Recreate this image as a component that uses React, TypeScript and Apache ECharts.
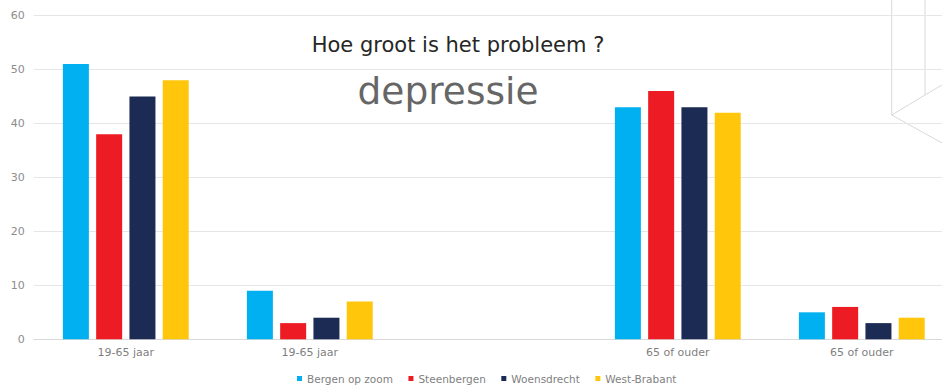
import React, { useEffect, useRef } from "react";
import * as echarts from "echarts";

const categories = ["19-65 jaar", "19-65 jaar", "", "65 of ouder", "65 of ouder"];
const seriesNames = ["Bergen op zoom", "Steenbergen", "Woensdrecht", "West-Brabant"];
const bergenOpZoom = [51, 9, null, 43, 5];
const steenbergen = [38, 3, null, 46, 6];
const woensdrecht = [45, 4, null, 43, 3];
const westBrabant = [48, 7, null, 42, 4];
const colors = ["#00B0F0", "#ED1C24", "#1C2B53", "#FFC60B"];
const titleText = "Hoe groot is het probleem ?";
const subtitleText = "depressie";

export default function App() {
  const ref = useRef<HTMLDivElement>(null);
  useEffect(() => {
    if (!ref.current) return;
    const chart = echarts.init(ref.current, undefined, { renderer: "svg" });
    const values = [bergenOpZoom, steenbergen, woensdrecht, westBrabant];
    const font = "DejaVu Sans, Verdana, sans-serif";
    chart.setOption({
      animation: false,
      backgroundColor: "#ffffff",
      color: colors,
      textStyle: { fontFamily: font },
      grid: {
        left: 33.8,
        width: 920,
        top: 15.5,
        bottom: 45.7,
        containLabel: false,
        outerBoundsMode: "none",
      },
      legend: {
        data: seriesNames,
        left: 292,
        top: 368,
        itemWidth: 5,
        itemHeight: 5,
        itemGap: 15.5,
        icon: "rect",
        textStyle: { fontSize: 10.5, color: "#7f7f7f", fontFamily: font },
      },
      xAxis: {
        type: "category",
        data: categories,
        axisTick: { show: false },
        axisLine: { lineStyle: { color: "#d9d9d9" } },
        axisLabel: { color: "#7f7f7f", fontSize: 11, margin: 8, interval: 0, fontFamily: font },
      },
      yAxis: {
        type: "value",
        min: 0,
        max: 60,
        interval: 10,
        axisLine: { show: false },
        axisTick: { show: false },
        splitLine: { lineStyle: { color: "#e6e6e6" } },
        axisLabel: { color: "#8c8c8c", fontSize: 11, margin: 9, fontFamily: font },
      },
      series: seriesNames.map((name, i) => ({
        name,
        type: "bar",
        data: values[i],
        barWidth: 26,
        barGap: "28%",
        itemStyle: { color: colors[i] },
      })),
      graphic: [
        {
          type: "text",
          x: 458,
          y: 45,
          style: {
            text: titleText,
            fill: "#262626",
            fontSize: 21,
            fontFamily: font,
            textAlign: "center",
            textVerticalAlign: "middle",
          },
        },
        {
          type: "text",
          x: 448,
          y: 91,
          style: {
            text: subtitleText,
            fill: "#666666",
            fontSize: 37.5,
            fontFamily: font,
            textAlign: "center",
            textVerticalAlign: "middle",
          },
        },
        { type: "line", shape: { x1: 891.7, y1: 0, x2: 891.7, y2: 115 }, style: { stroke: "#d9d9d9", lineWidth: 1 } },
        { type: "line", shape: { x1: 925, y1: 0, x2: 925, y2: 95 }, style: { stroke: "#d9d9d9", lineWidth: 1 } },
        { type: "line", shape: { x1: 925, y1: 95, x2: 942, y2: 85 }, style: { stroke: "#d9d9d9", lineWidth: 1 } },
        { type: "line", shape: { x1: 925, y1: 95, x2: 891.7, y2: 115 }, style: { stroke: "#d9d9d9", lineWidth: 1 } },
        { type: "line", shape: { x1: 891.7, y1: 115, x2: 942, y2: 143 }, style: { stroke: "#d9d9d9", lineWidth: 1 } },
      ],
    });
    return () => chart.dispose();
  }, []);
  return (
    <div
      ref={ref}
      style={{ position: "fixed", left: 0, top: 0, width: 942, height: 385 }}
    />
  );
}
